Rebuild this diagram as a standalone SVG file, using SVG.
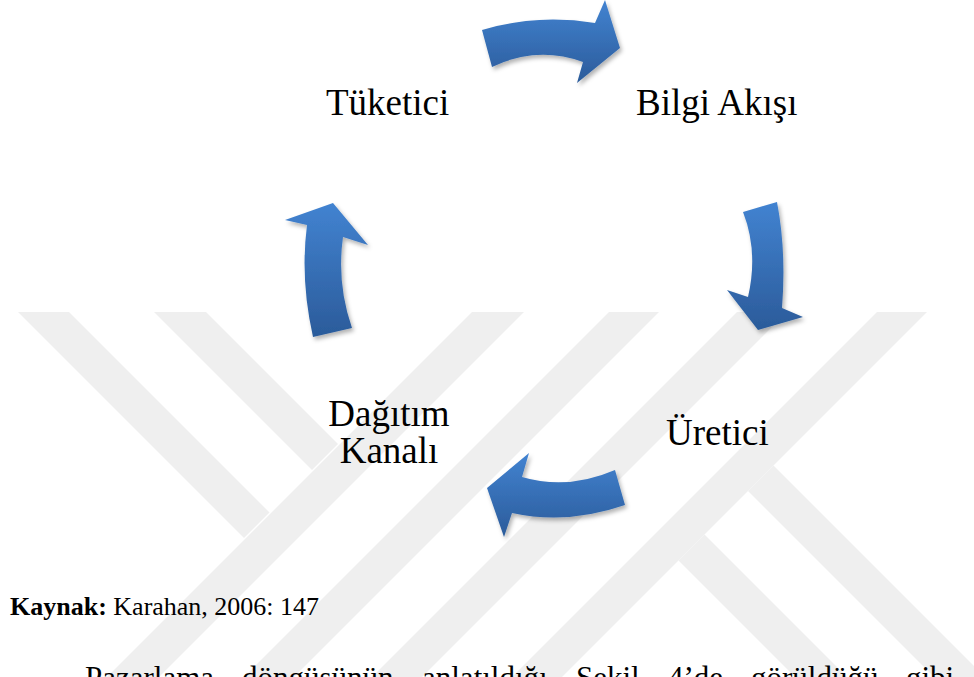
<svg xmlns="http://www.w3.org/2000/svg" width="974" height="677" viewBox="0 0 974 677">
  <defs>
    <linearGradient id="arrowGrad" x1="0" y1="0" x2="0" y2="1">
      <stop offset="0" stop-color="#4283d1"/>
      <stop offset="1" stop-color="#2b5b9a"/>
    </linearGradient>
    <filter id="shadow" x="-20%" y="-20%" width="140%" height="140%">
      <feDropShadow dx="2" dy="3" stdDeviation="2" flood-color="#000" flood-opacity="0.3"/>
    </filter>
    <style>
      .wm { fill: #efefef; }
      .arrow { fill: url(#arrowGrad); filter: url(#shadow); }
      .lbl { font-size: 37px; fill: #000; }
      .body { fill: #000; }
    </style>
  </defs>
  <rect width="974" height="677" fill="#ffffff"/>

  <g id="watermark">
    <polygon class="wm" points="18,312 69,312 269.5,512.5 244,538"/>
    <polygon class="wm" points="154,312 206,312 338,444 312,470"/>
    <polygon class="wm" points="472,312 524,312 159,677 107,677"/>
    <polygon class="wm" points="609,312 659,312 294,677 244,677"/>
    <polygon class="wm" points="737,312 787,312 422,677 372,677"/>
    <polygon class="wm" points="877,312 927,312 562,677 512,677"/>
    <polygon class="wm" points="773.5,465.5 1108,800 1057,800 748,491"/>
    <polygon class="wm" points="704.5,534.5 970,800 918,800 678.5,560.5"/>
  </g>

  <g id="connectors">
    <path id="arrow-top" class="arrow" d="M482,30 Q537,13.5 595,23 L605,0 L620,48 L577,83 L583,62 Q537,45.5 492,67 Z"/>
    <path id="arrow-right" class="arrow" d="M743,212 L777,202 Q786.5,251 782,308 L803,317 L758,330 L727,290 L748,297 Q758.5,251.5 743,212 Z"/>
    <path id="arrow-bottom" class="arrow" d="M615,470 Q567.5,490.5 522,477 L529,453 L487,488 L504,537 L512,513 Q567.5,525 625,505 Z"/>
    <path id="arrow-left" class="arrow" d="M333,203 L368,245 L343,237 Q336.5,283.5 352,328 L313,337 Q300,279 307,225 L285,220 Z"/>
  </g>

  <g font-family="'Liberation Serif', 'Times New Roman', serif">
    <g id="node-tuketici">
      <text class="lbl" x="326" y="115">Tüketici</text>
    </g>
    <g id="node-bilgi-akisi">
      <text class="lbl" x="636" y="115">Bilgi Akışı</text>
    </g>
    <g id="node-uretici">
      <text class="lbl" x="666" y="445">Üretici</text>
    </g>
    <g id="node-dagitim-kanali">
      <text class="lbl" x="389" y="426" text-anchor="middle">Dağıtım</text>
      <text class="lbl" x="389" y="463" text-anchor="middle">Kanalı</text>
    </g>

    <g id="caption">
      <text class="body" x="10" y="615" font-size="26"><tspan font-weight="bold">Kaynak:</tspan> Karahan, 2006: 147</text>
    </g>
    <g id="body-text" class="body" font-size="31">
      <text x="85" y="688">Pazarlama</text>
      <text x="242" y="688">döngüsünün</text>
      <text x="422" y="688">anlatıldığı</text>
      <text x="576" y="688">Şekil</text>
      <text x="668" y="688">4’de</text>
      <text x="751" y="688">görüldüğü</text>
      <text x="906" y="688">gibi</text>
    </g>
  </g>
</svg>
